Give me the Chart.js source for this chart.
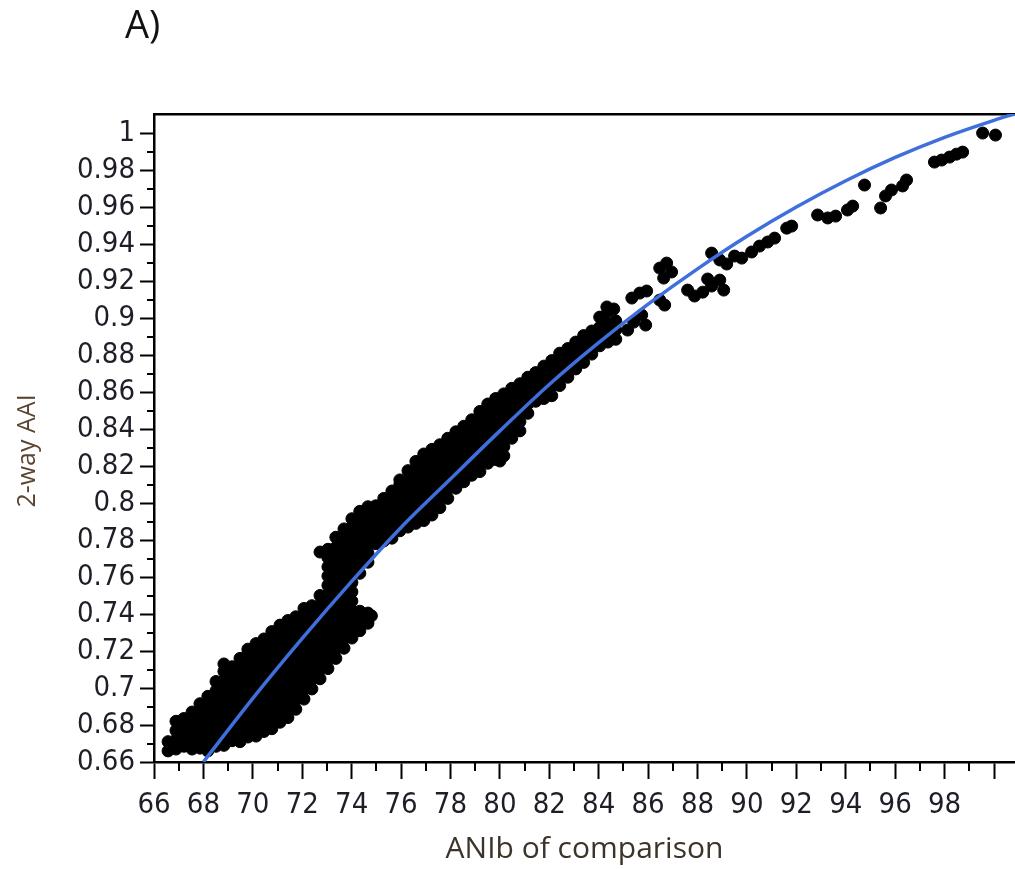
<!DOCTYPE html>
<html>
<head>
<meta charset="utf-8">
<script src="https://cdn.jsdelivr.net/npm/chart.js@4.4.1/dist/chart.umd.min.js"></script>
<style>
  body { margin: 0; background: #fff; }
  #wrap { position: relative; width: 1015px; height: 869px; }
  #panel { position: absolute; left: 125px; top: 4px; font: 38px/38px 'Open Sans', sans-serif; color: #111; }
</style>
</head>
<body>
<div id="wrap">
  <canvas id="myChart"></canvas>
  <div id="panel">A)</div>
</div>
<script>
// fitted curve, read every 2 units of ANIb
const fitX = [68, 70, 72, 74, 76, 78, 80, 82, 84, 86, 88, 90, 92, 94, 96, 98, 100, 100.85];
const fitY = [0.660, 0.6944, 0.7268, 0.7576, 0.7868, 0.8130, 0.8390, 0.8641, 0.8867, 0.9075, 0.9266, 0.9442, 0.9600, 0.9742, 0.9868, 0.9977, 1.0069, 1.0104];

// dense part of the cloud: one ANIb value per column, with the AAI values seen in it
const cloudX = [66.57, 66.89, 67.21, 67.54, 67.86, 68.18, 68.51, 68.83, 69.16, 69.48, 69.80, 70.13, 70.45, 70.77, 71.10, 71.42, 71.74, 72.07, 72.39, 72.72, 73.04, 73.36, 73.69, 74.01, 74.33, 74.66, 74.98, 75.30, 75.63, 75.95, 76.28, 76.60, 76.92, 77.25, 77.57, 77.89, 78.22, 78.54, 78.86, 79.19, 79.51, 79.83, 80.16, 80.48, 80.81, 81.13, 81.45, 81.78, 82.10, 82.42, 82.75, 83.07, 83.39, 83.72, 84.04, 84.37, 84.69];
const cloudY = [
  [0.666, 0.671],
  [0.667, 0.672, 0.677, 0.682],
  [0.6685, 0.6735, 0.6785, 0.6835],
  [0.667, 0.672, 0.677, 0.682, 0.687],
  [0.6675, 0.6725, 0.6775, 0.6825, 0.6875, 0.6915],
  [0.666, 0.671, 0.676, 0.681, 0.686, 0.691, 0.6955],
  [0.6685, 0.6735, 0.6785, 0.6835, 0.6885, 0.6935, 0.6985, 0.7035],
  [0.669, 0.674, 0.679, 0.684, 0.689, 0.694, 0.699, 0.704, 0.709, 0.713],
  [0.6715, 0.6765, 0.6815, 0.6865, 0.6915, 0.6965, 0.7015, 0.7065, 0.7115],
  [0.671, 0.676, 0.681, 0.686, 0.691, 0.696, 0.701, 0.706, 0.711, 0.716],
  [0.6735, 0.6785, 0.6835, 0.6885, 0.6935, 0.6985, 0.7035, 0.7085, 0.7135, 0.7185, 0.721],
  [0.674, 0.679, 0.684, 0.689, 0.694, 0.699, 0.704, 0.709, 0.714, 0.719, 0.724],
  [0.6765, 0.6815, 0.6865, 0.6915, 0.6965, 0.7015, 0.7065, 0.7115, 0.7165, 0.7215, 0.7265],
  [0.678, 0.683, 0.688, 0.693, 0.698, 0.703, 0.708, 0.713, 0.718, 0.723, 0.728, 0.7305],
  [0.6815, 0.6865, 0.6915, 0.6965, 0.7015, 0.7065, 0.7115, 0.7165, 0.7215, 0.7265, 0.7315, 0.734],
  [0.684, 0.689, 0.694, 0.699, 0.704, 0.709, 0.714, 0.719, 0.724, 0.729, 0.734, 0.7365],
  [0.6885, 0.6935, 0.6985, 0.7035, 0.7085, 0.7135, 0.7185, 0.7235, 0.7285, 0.7335, 0.7385],
  [0.694, 0.699, 0.704, 0.709, 0.714, 0.719, 0.724, 0.729, 0.734, 0.739, 0.743],
  [0.6995, 0.7045, 0.7095, 0.7145, 0.7195, 0.7245, 0.7295, 0.7345, 0.7395, 0.7445],
  [0.705, 0.71, 0.715, 0.72, 0.725, 0.73, 0.735, 0.74, 0.745, 0.75, 0.7735],
  [0.7105, 0.7155, 0.7205, 0.7255, 0.7305, 0.7355, 0.7405, 0.7455, 0.7505, 0.7555, 0.7605, 0.7655, 0.7705, 0.775],
  [0.716, 0.721, 0.726, 0.731, 0.736, 0.741, 0.746, 0.751, 0.756, 0.761, 0.766, 0.771, 0.776, 0.7815],
  [0.7215, 0.7265, 0.7315, 0.7365, 0.7415, 0.7465, 0.7515, 0.7565, 0.7615, 0.7665, 0.7715, 0.7765, 0.7815, 0.786],
  [0.727, 0.732, 0.737, 0.742, 0.747, 0.752, 0.757, 0.762, 0.767, 0.772, 0.777, 0.782, 0.787, 0.7915],
  [0.731, 0.736, 0.7415, 0.762, 0.767, 0.772, 0.777, 0.782, 0.787, 0.792, 0.7955],
  [0.735, 0.7405, 0.768, 0.773, 0.778, 0.783, 0.788, 0.793, 0.798],
  [0.778, 0.783, 0.788, 0.793, 0.7985],
  [0.7795, 0.7845, 0.7895, 0.7945, 0.7995, 0.8025],
  [0.781, 0.786, 0.791, 0.796, 0.801, 0.8065],
  [0.785, 0.79, 0.795, 0.8, 0.805, 0.81, 0.8125],
  [0.787, 0.792, 0.797, 0.802, 0.807, 0.812, 0.8175],
  [0.789, 0.794, 0.799, 0.804, 0.809, 0.814, 0.819, 0.8225],
  [0.7905, 0.7955, 0.8005, 0.8055, 0.8105, 0.8155, 0.8205, 0.8265],
  [0.7935, 0.7985, 0.8035, 0.8085, 0.8135, 0.8185, 0.8235, 0.829],
  [0.7975, 0.8025, 0.8075, 0.8125, 0.8175, 0.8225, 0.8275, 0.8315],
  [0.8025, 0.8075, 0.8125, 0.8175, 0.8225, 0.8275, 0.8325, 0.835],
  [0.808, 0.813, 0.818, 0.823, 0.828, 0.833, 0.8385],
  [0.8115, 0.8165, 0.8215, 0.8265, 0.8315, 0.8365, 0.8415],
  [0.815, 0.82, 0.825, 0.83, 0.835, 0.84, 0.845],
  [0.817, 0.822, 0.827, 0.832, 0.837, 0.842, 0.847, 0.8495],
  [0.8215, 0.8265, 0.8315, 0.8365, 0.8415, 0.8465, 0.8515, 0.8535],
  [0.8235, 0.8285, 0.8335, 0.8385, 0.8435, 0.8485, 0.8535, 0.8565],
  [0.8255, 0.8305, 0.8355, 0.8405, 0.8455, 0.8505, 0.8555, 0.859],
  [0.835, 0.84, 0.845, 0.85, 0.855, 0.86, 0.862],
  [0.839, 0.844, 0.849, 0.854, 0.859, 0.8645],
  [0.8485, 0.8535, 0.8585, 0.8635, 0.868],
  [0.855, 0.86, 0.865, 0.8705],
  [0.8565, 0.8615, 0.8665, 0.8715, 0.874],
  [0.858, 0.863, 0.868, 0.873, 0.877],
  [0.8635, 0.8685, 0.8735, 0.8785, 0.881],
  [0.868, 0.873, 0.878, 0.8835],
  [0.8725, 0.8775, 0.8825, 0.887],
  [0.876, 0.881, 0.886, 0.8905],
  [0.8805, 0.8855, 0.8895, 0.893],
  [0.885, 0.89, 0.895, 0.9005],
  [0.887, 0.892, 0.897, 0.9035],
  [0.8885, 0.8935, 0.8985]
];

// single points, mostly the sparse upper part
const upperX = [74.80, 80.00, 84.33, 84.61, 85.17, 85.42, 85.74, 85.90, 85.34, 85.66, 85.94, 86.47, 86.67, 86.47, 86.75, 86.95, 86.63, 87.60, 87.88, 88.21, 88.57, 88.90, 89.06, 88.41, 88.57, 88.90, 89.18, 89.50, 89.79, 90.19, 90.51, 90.84, 91.12, 91.61, 91.81, 92.86, 93.27, 93.59, 94.07, 94.28, 94.76, 95.41, 95.61, 95.85, 96.30, 96.46, 97.59, 97.88, 98.20, 98.48, 98.73, 99.54, 100.06];
const upperY = [0.739, 0.8227, 0.906, 0.9049, 0.8935, 0.8978, 0.9016, 0.8962, 0.9108, 0.9135, 0.9146, 0.9097, 0.907, 0.927, 0.9297, 0.9249, 0.9216, 0.9151, 0.9119, 0.914, 0.9173, 0.9205, 0.9151, 0.9211, 0.9351, 0.9314, 0.9292, 0.9335, 0.9324, 0.9357, 0.9389, 0.9411, 0.9432, 0.9486, 0.9497, 0.9557, 0.9541, 0.9551, 0.9584, 0.9605, 0.9719, 0.9595, 0.966, 0.9692, 0.9714, 0.9746, 0.9843, 0.9854, 0.987, 0.9886, 0.9897, 1.0, 0.9989];

let cloudPoints = [];
cloudX.forEach((x, i) => cloudY[i].forEach(y => cloudPoints.push({x: x, y: y})));
upperX.forEach((x, i) => cloudPoints.push({x: x, y: upperY[i]}));
let fitPoints = fitX.map((x, i) => ({x: x, y: fitY[i]}));

let tickFont = {family: "'DejaVu Sans Condensed', 'Liberation Sans', sans-serif", size: 29};

// short ticks between the labelled ones
let minorTicks = {
    id: 'minorTicks',
    afterDraw(chart) {
        let {ctx, chartArea: area, scales: {x, y}} = chart;
        ctx.save();
        ctx.strokeStyle = '#000';
        ctx.lineWidth = 2;
        ctx.beginPath();
        for (let v = 67; v < x.max; v += 2) {
            let px = Math.round(x.getPixelForValue(v));
            ctx.moveTo(px, area.bottom);
            ctx.lineTo(px, area.bottom + 9);
        }
        for (let k = 67; k < 101; k += 2) {
            let py = Math.round(y.getPixelForValue(k / 100));
            ctx.moveTo(area.left, py);
            ctx.lineTo(area.left - 7, py);
        }
        ctx.stroke();
        ctx.restore();
    }
};

let ctx = document.querySelector('#myChart').getContext('2d');

let myChart = new Chart(ctx, {
    type: 'scatter',
    data: {
        datasets: [{
            type: 'line',
            data: fitPoints,
            borderColor: '#3f6fdc',
            borderWidth: 3.5,
            pointRadius: 0,
            fill: false,
            cubicInterpolationMode: 'monotone'
        }, {
            data: cloudPoints,
            backgroundColor: '#000',
            borderColor: '#000',
            borderWidth: 1,
            pointRadius: 6
        }]
    },
    options: {
        responsive: true,
        maintainAspectRatio: false,
        animation: false,
        layout: {autoPadding: false, padding: {top: 114, left: 0, right: 0, bottom: 0}},
        plugins: {legend: {display: false}, tooltip: {enabled: false}},
        scales: {
            x: {
                type: 'linear',
                position: 'bottom',
                min: 66,
                max: 100.85,
                ticks: {
                    stepSize: 2,
                    includeBounds: false,
                    autoSkip: false,
                    maxRotation: 0,
                    font: tickFont,
                    color: '#1e1e28',
                    padding: 9,
                    callback: v => v < 99 ? String(v) : ''
                },
                grid: {drawOnChartArea: false, tickLength: 17, tickWidth: 2, tickColor: '#000'},
                border: {display: true, color: '#000', width: 2.5},
                title: {
                    display: true,
                    text: 'ANIb of comparison',
                    font: {family: "'Open Sans', sans-serif", size: 30},
                    color: '#3d3429',
                    padding: {top: 0, bottom: 2}
                },
                afterFit: s => { s.height = 107; s.paddingRight = 0; }
            },
            xTop: {
                type: 'linear',
                position: 'top',
                min: 66,
                max: 100.85,
                ticks: {display: false},
                grid: {drawOnChartArea: false, drawTicks: false},
                border: {display: true, color: '#000', width: 2.5},
                afterFit: s => { s.paddingRight = 0; }
            },
            y: {
                type: 'linear',
                min: 0.66,
                max: 1.0103,
                ticks: {
                    stepSize: 0.02,
                    includeBounds: false,
                    autoSkip: false,
                    font: tickFont,
                    color: '#1e1e28',
                    padding: 5,
                    callback: v => String(Math.round(v * 100) / 100)
                },
                grid: {drawOnChartArea: false, tickLength: 14, tickWidth: 2, tickColor: '#000'},
                border: {display: true, color: '#000', width: 2.5},
                title: {
                    display: true,
                    // trailing spaces push the words a little lower, as in the source
                    text: '2-way AAI\u00a0\u00a0\u00a0\u00a0',
                    font: {family: "'Open Sans', sans-serif", size: 25},
                    color: '#5b4530',
                    padding: {top: 13, bottom: 0}
                },
                afterFit: s => { s.width = 154; }
            }
        }
    },
    plugins: [minorTicks]
});
</script>
</body>
</html>
